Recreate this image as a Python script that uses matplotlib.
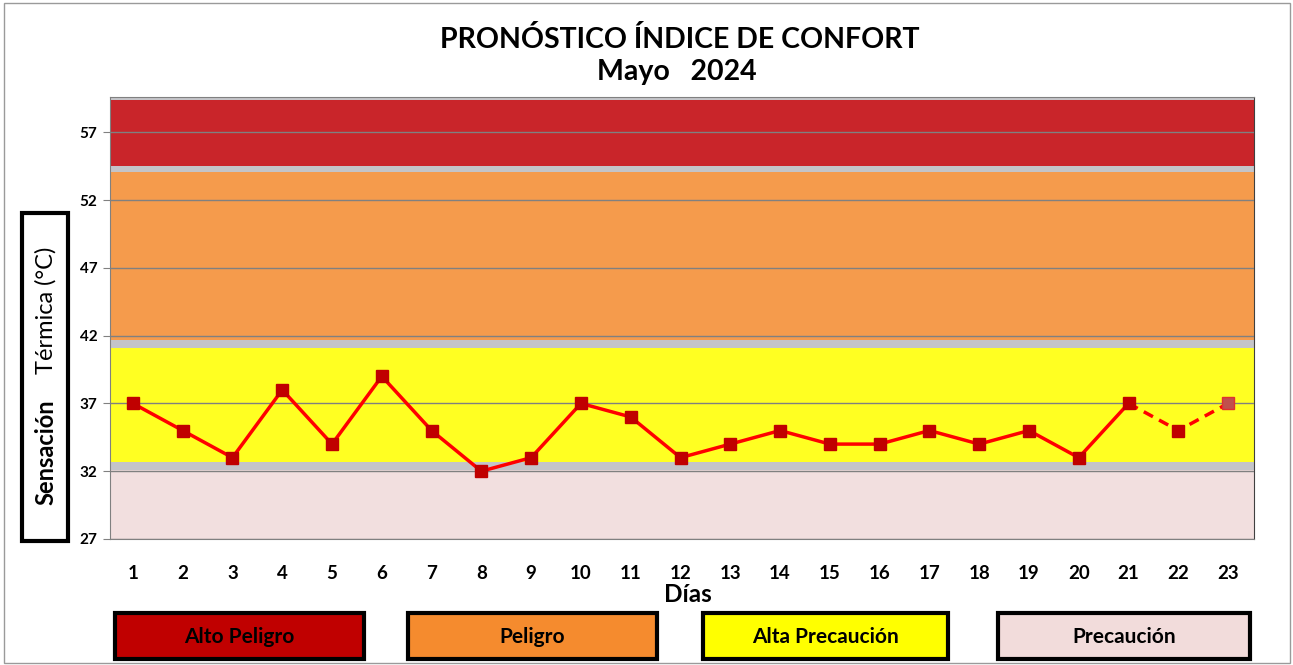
import matplotlib.pyplot as plt
from matplotlib.patches import Rectangle

dias = list(range(1, 24))
sensacion = [37, 35, 33, 38, 34, 39, 35, 32, 33, 37, 36, 33, 34, 35, 34, 34, 35, 34, 35, 33, 37, 35, 37]
n_obs = 21  # dias observados, el resto pronostico (linea discontinua)

# bandas de alerta (limite inferior, limite superior, color)
bandas = [
    (27.0, 32.1, "#f2dfdf"),
    (32.7, 41.1, "#ffff22"),
    (41.7, 54.1, "#f59b4c"),
    (54.5, 59.4, "#c9252a"),
]
leyenda = [
    ("Alto Peligro", "#c00000"),
    ("Peligro", "#f58b2e"),
    ("Alta Precaución", "#ffff00"),
    ("Precaución", "#f2dcdb"),
]
leyenda_x = [115, 408, 703, 998]
leyenda_w = [249, 249, 245, 252]

plt.rcParams['font.family'] = ['Lato', 'DejaVu Sans']

W, H = 1293, 665
fig = plt.figure(figsize=(W / 100, H / 100), dpi=100)
fig.patches.append(Rectangle((4 / W, 2 / H), 1286 / W, 660 / H, transform=fig.transFigure,
                             fill=False, edgecolor="#9a9a9a", linewidth=1))

ax = fig.add_axes([110 / W, 1 - 539 / H, (1254 - 110) / W, (539 - 97) / H])
ax.set_facecolor("#c4c4c8")
for lo, hi, c in bandas:
    ax.axhspan(lo, hi, color=c, zorder=0, linewidth=0)
ax.set_ylim(27, 59.6)
ax.set_xlim(0.54, 23.52)
ax.set_yticks([27, 32, 37, 42, 47, 52, 57])
ax.set_xticks(dias)
ax.yaxis.grid(True, color="#808080", linewidth=1)
ax.set_axisbelow(False)
for gl in ax.get_ygridlines():
    gl.set_zorder(1)
ax.tick_params(axis='y', labelsize=11, length=5, color="#808080", pad=4)
ax.tick_params(axis='x', labelsize=13.5, length=0, pad=19)
for lb in ax.get_yticklabels():
    lb.set_fontweight('bold')
for lb in ax.get_xticklabels():
    lb.set_fontweight('bold')
ax.spines['top'].set_color("#808080")
ax.spines['left'].set_color("#808080")
ax.spines['bottom'].set_color("#808080")
ax.spines['right'].set_color("#404040")

ax.plot(dias[:n_obs], sensacion[:n_obs], color="#ff0000", linewidth=2.5, zorder=3)
ax.plot(dias[n_obs - 1:], sensacion[n_obs - 1:], color="#ff0000", linewidth=2.5,
        linestyle=(0, (3, 2)), zorder=3)
ax.plot(dias[:-1], sensacion[:-1], linestyle='none', marker='s', markersize=9,
        color="#c00000", zorder=4)
ax.plot(dias[-1:], sensacion[-1:], linestyle='none', marker='s', markersize=9,
        markerfacecolor="#c0504d", markeredgecolor="#e03030", zorder=4)

fig.text(680 / W, 1 - 40 / H, "PRONÓSTICO ÍNDICE DE CONFORT", ha='center', va='center',
         fontsize=20.5, fontweight='bold')
fig.text(677 / W, 1 - 72 / H, "Mayo   2024", ha='center', va='center',
         fontsize=20.5, fontweight='bold')
fig.text(688 / W, 1 - 594 / H, "Días", ha='center', va='center', fontsize=17.5, fontweight='bold')

# caja del titulo del eje Y
fig.patches.append(Rectangle((22 / W, 1 - 541 / H), 46 / W, 328 / H, transform=fig.transFigure,
                             fill=False, edgecolor="black", linewidth=3))
fig.text(46 / W, 1 - 452 / H, "Sensación", rotation=90, ha='center', va='center',
         fontsize=17, fontweight='bold')
fig.text(46 / W, 1 - 310 / H, "Térmica (°C)", rotation=90, ha='center', va='center',
         fontsize=17)

for (txt, c), x0, w in zip(leyenda, leyenda_x, leyenda_w):
    fig.patches.append(Rectangle((x0 / W, 1 - 659 / H), w / W, 46 / H, transform=fig.transFigure,
                                 facecolor=c, edgecolor="black", linewidth=3))
    fig.text((x0 + w / 2) / W, 1 - 637 / H, txt, ha='center', va='center',
             fontsize=15, fontweight='bold')

fig.savefig("out.png", dpi=100)
